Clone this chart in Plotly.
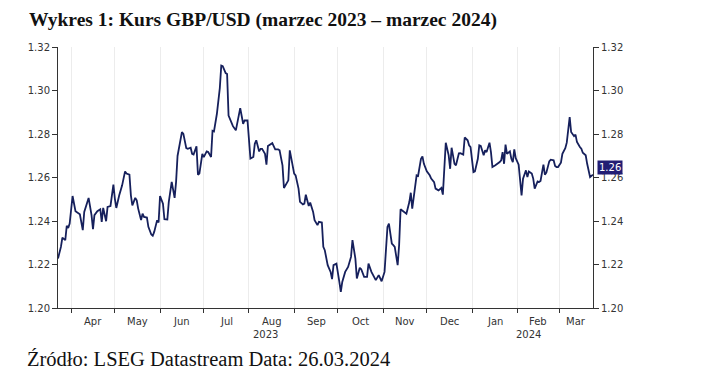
import plotly.graph_objects as go
import pandas as pd

dates = [
"2023-03-23","2023-03-25","2023-03-26","2023-03-28","2023-03-29","2023-03-30","2023-03-31",
"2023-04-02","2023-04-04","2023-04-06","2023-04-07","2023-04-09","2023-04-10","2023-04-13","2023-04-15",
"2023-04-16","2023-04-17","2023-04-19","2023-04-21","2023-04-22","2023-04-23","2023-04-25","2023-04-26",
"2023-04-28","2023-04-30","2023-05-01","2023-05-02","2023-05-04","2023-05-06","2023-05-08","2023-05-09",
"2023-05-11","2023-05-12","2023-05-13","2023-05-15","2023-05-16","2023-05-17","2023-05-19","2023-05-20",
"2023-05-21","2023-05-23","2023-05-24","2023-05-26","2023-05-27","2023-05-28","2023-05-30","2023-05-31",
"2023-06-01","2023-06-03","2023-06-04","2023-06-06","2023-06-07","2023-06-08","2023-06-09","2023-06-11",
"2023-06-12","2023-06-13","2023-06-15","2023-06-16","2023-06-17","2023-06-19","2023-06-20","2023-06-22",
"2023-06-23","2023-06-24","2023-06-26","2023-06-27","2023-06-28","2023-06-30","2023-07-01","2023-07-03",
"2023-07-04","2023-07-06","2023-07-07","2023-07-08","2023-07-10","2023-07-12","2023-07-13","2023-07-14",
"2023-07-16","2023-07-17","2023-07-18","2023-07-20","2023-07-21","2023-07-23","2023-07-24","2023-07-26",
"2023-07-28","2023-07-29","2023-07-31","2023-08-01","2023-08-02","2023-08-04","2023-08-05","2023-08-06",
"2023-08-08","2023-08-09","2023-08-10","2023-08-12","2023-08-13","2023-08-14","2023-08-16","2023-08-17",
"2023-08-19","2023-08-21","2023-08-22","2023-08-24","2023-08-25","2023-08-27","2023-08-28","2023-08-29",
"2023-08-31","2023-09-01","2023-09-02","2023-09-04","2023-09-05","2023-09-07","2023-09-08","2023-09-09",
"2023-09-11","2023-09-12","2023-09-14","2023-09-15","2023-09-17","2023-09-18","2023-09-20",
"2023-09-21","2023-09-22","2023-09-24","2023-09-26","2023-09-27","2023-09-28","2023-09-30",
"2023-10-02","2023-10-03","2023-10-04","2023-10-06","2023-10-08","2023-10-10","2023-10-11","2023-10-13",
"2023-10-14","2023-10-16","2023-10-17","2023-10-19","2023-10-21","2023-10-22","2023-10-24","2023-10-26",
"2023-10-27","2023-10-29","2023-10-30","2023-10-31","2023-11-02","2023-11-04","2023-11-05","2023-11-07",
"2023-11-08","2023-11-09","2023-11-11","2023-11-12","2023-11-13","2023-11-15","2023-11-16","2023-11-17",
"2023-11-19","2023-11-20","2023-11-21","2023-11-23","2023-11-24","2023-11-25","2023-11-27","2023-11-28",
"2023-11-29","2023-12-01","2023-12-03","2023-12-04","2023-12-06","2023-12-07","2023-12-09","2023-12-11",
"2023-12-12","2023-12-14","2023-12-16","2023-12-17","2023-12-18","2023-12-20","2023-12-21","2023-12-23",
"2023-12-24","2023-12-26","2023-12-27","2023-12-29","2023-12-30","2023-12-31","2024-01-02","2024-01-03",
"2024-01-05","2024-01-06","2024-01-07","2024-01-09","2024-01-10","2024-01-11","2024-01-13","2024-01-14",
"2024-01-15","2024-01-17","2024-01-18","2024-01-20","2024-01-21","2024-01-22","2024-01-23","2024-01-24",
"2024-01-25","2024-01-27","2024-01-28","2024-01-29","2024-01-30","2024-01-31","2024-02-02","2024-02-04",
"2024-02-05","2024-02-07","2024-02-08","2024-02-09","2024-02-11","2024-02-12","2024-02-13","2024-02-15",
"2024-02-16","2024-02-17","2024-02-19","2024-02-20","2024-02-21","2024-02-23","2024-02-24","2024-02-26",
"2024-02-27","2024-02-28","2024-02-29","2024-03-02","2024-03-03","2024-03-05","2024-03-06","2024-03-08",
"2024-03-09","2024-03-11","2024-03-12","2024-03-13","2024-03-15","2024-03-16","2024-03-17","2024-03-19",
"2024-03-20","2024-03-21","2024-03-22","2024-03-24",
]

gbpusd = [
1.2228,1.2281,1.2323,1.2312,1.2378,1.2368,1.2388,
1.2515,1.2445,1.2434,1.2431,1.2358,1.2442,1.2506,1.2427,
1.2362,1.2427,1.2445,1.2454,1.2396,1.2460,1.2399,1.2465,
1.2469,1.2567,1.2503,1.2460,1.2518,1.2564,1.2628,1.2618,
1.2613,1.2518,1.2472,1.2506,1.2495,1.2457,1.2404,1.2434,
1.2419,1.2416,1.2373,1.2338,1.2332,1.2350,1.2404,1.2393,
1.2515,1.2480,1.2408,1.2407,1.2488,1.2549,1.2580,1.2506,
1.2580,1.2699,1.2763,1.2809,1.2801,1.2735,1.2732,1.2737,
1.2709,1.2706,1.2743,1.2613,1.2618,1.2709,1.2694,1.2720,
1.2717,1.2694,1.2815,1.2812,1.2893,1.3011,1.3115,1.3112,
1.3080,1.3076,1.2885,1.2855,1.2836,1.2817,1.2855,1.2919,
1.2847,1.2862,1.2862,1.2786,1.2687,1.2694,1.2755,1.2771,
1.2720,1.2732,1.2732,1.2709,1.2659,1.2745,1.2755,1.2758,
1.2729,1.2729,1.2725,1.2656,1.2552,1.2576,1.2587,1.2725,
1.2659,1.2618,1.2610,1.2549,1.2488,1.2476,1.2480,1.2521,
1.2469,1.2485,1.2442,1.2404,1.2381,1.2396,1.2393,
1.2281,1.2266,1.2197,1.2166,1.2133,1.2197,1.2204,
1.2120,1.2074,1.2120,1.2166,1.2189,1.2235,1.2312,1.2227,
1.2136,1.2185,1.2178,1.2143,1.2143,1.2204,1.2166,1.2136,
1.2128,1.2151,1.2139,1.2123,1.2166,1.2373,1.2388,1.2296,
1.2289,1.2281,1.2197,1.2289,1.2454,1.2445,1.2439,1.2434,
1.2487,1.2530,1.2457,1.2572,1.2610,1.2607,1.2686,1.2697,
1.2663,1.2628,1.2610,1.2595,1.2579,1.2549,1.2541,1.2552,
1.2521,1.2760,1.2702,1.2640,1.2737,1.2663,1.2656,1.2711,
1.2712,1.2705,1.2784,1.2771,1.2748,1.2740,1.2625,1.2628,
1.2686,1.2748,1.2745,1.2702,1.2725,1.2717,1.2760,1.2717,
1.2648,1.2656,1.2660,1.2671,1.2679,1.2717,1.2663,1.2751,
1.2709,1.2720,1.2686,1.2671,1.2729,1.2689,1.2659,1.2518,
1.2595,1.2633,1.2602,1.2628,1.2618,1.2595,1.2549,1.2582,
1.2579,1.2584,1.2659,1.2613,1.2622,1.2674,1.2682,1.2679,
1.2653,1.2648,1.2648,1.2668,1.2709,1.2735,1.2760,1.2878,
1.2809,1.2790,1.2797,1.2763,1.2740,1.2732,1.2714,1.2702,
1.2663,1.2625,1.2602,1.2613,
]

y_ticks = [1.20, 1.22, 1.24, 1.26, 1.28, 1.30, 1.32]
y_ticktext = ["1.20", "1.22", "1.24", "1.26", "1.28", "1.30", "1.32"]
x_range = ["2023-03-23", "2024-03-24"]
month_starts = ["2023-04-01","2023-05-01","2023-06-01","2023-07-01","2023-08-01","2023-09-01",
                "2023-10-01","2023-11-01","2023-12-01","2024-01-01","2024-02-01","2024-03-01"]
month_names = ["Apr","May","Jun","Jul","Aug","Sep","Oct","Nov","Dec","Jan","Feb","Mar"]
year_labels = [("2023-08-12", "2023"), ("2024-02-09", "2024")]
last_label = "1.26"

title_text = "Wykres 1: Kurs GBP/USD (marzec 2023 – marzec 2024)"
source_text = "Źródło: LSEG Datastream Data: 26.03.2024"

LINE = "#16205c"
AX = "#333333"
TICKFONT = dict(family="DejaVu Sans", size=10, color="#333333")

fig = go.Figure()
fig.add_trace(go.Scatter(x=dates, y=gbpusd, mode="lines",
                         line=dict(color=LINE, width=1.8), hoverinfo="skip", yaxis="y"))
fig.add_trace(go.Scatter(x=dates, y=gbpusd, mode="lines", opacity=0,
                         line=dict(color=LINE, width=1), hoverinfo="skip", yaxis="y2"))

yaxis_common = dict(range=[1.20, 1.32], tickvals=y_ticks, ticktext=y_ticktext, automargin=False,
                    showgrid=False, zeroline=False, showline=True, linecolor=AX, linewidth=1,
                    ticks="outside", ticklen=5, tickcolor=AX, tickfont=TICKFONT)

# the page body adds an 8px offset, so margins are set to compensate
fig.update_layout(
    width=705, height=388,
    margin=dict(l=50, r=120, t=39, b=88, autoexpand=False),
    paper_bgcolor="white", plot_bgcolor="white",
    showlegend=False,
    xaxis=dict(type="date", range=x_range, tickvals=month_starts, showticklabels=False,
               automargin=False,
               showgrid=True, gridcolor="#ececec", gridwidth=1,
               showline=True, linecolor=AX, linewidth=1,
               ticks="outside", ticklen=4, tickcolor=AX, zeroline=False),
    yaxis=dict(side="left", **yaxis_common),
    yaxis2=dict(side="right", overlaying="y", **yaxis_common),
)

annotations = [
    dict(text="<b>" + title_text + "</b>", xref="paper", yref="paper", x=-31/535, y=1,
         xanchor="left", yanchor="middle", yshift=27, showarrow=False,
         font=dict(family="Liberation Serif", size=19.5, color="#111111")),
    dict(text=source_text, xref="paper", yref="paper", x=-33/535, y=0,
         xanchor="left", yanchor="middle", yshift=-51, showarrow=False,
         font=dict(family="Liberation Serif", size=20.5, color="#111111")),
    dict(text=last_label, xref="paper", yref="y", x=1, y=gbpusd[-1],
         xanchor="left", yanchor="middle", xshift=4, yshift=7, showarrow=False,
         bgcolor="#221d74", borderpad=1,
         font=dict(family="DejaVu Sans", size=10, color="white")),
]
# month labels centred on the visible part of each month
rng0, rng1 = pd.Timestamp(x_range[0]), pd.Timestamp(x_range[1])
for i, (ms, name) in enumerate(zip(month_starts, month_names)):
    a = max(pd.Timestamp(ms), rng0)
    b = pd.Timestamp(month_starts[i + 1]) if i + 1 < len(month_starts) else rng1
    b = min(b, rng1)
    mid = a + (b - a) / 2
    annotations.append(dict(text=name, xref="x", yref="paper", x=mid.strftime("%Y-%m-%d %H:%M"), y=0,
                            xanchor="center", yanchor="middle", yshift=-13, showarrow=False,
                            font=TICKFONT))
for xd, txt in year_labels:
    annotations.append(dict(text=txt, xref="x", yref="paper", x=xd, y=0, xanchor="center",
                            yanchor="middle", yshift=-26, showarrow=False, font=TICKFONT))
fig.update_layout(annotations=annotations)

fig.write_html("out.html")
